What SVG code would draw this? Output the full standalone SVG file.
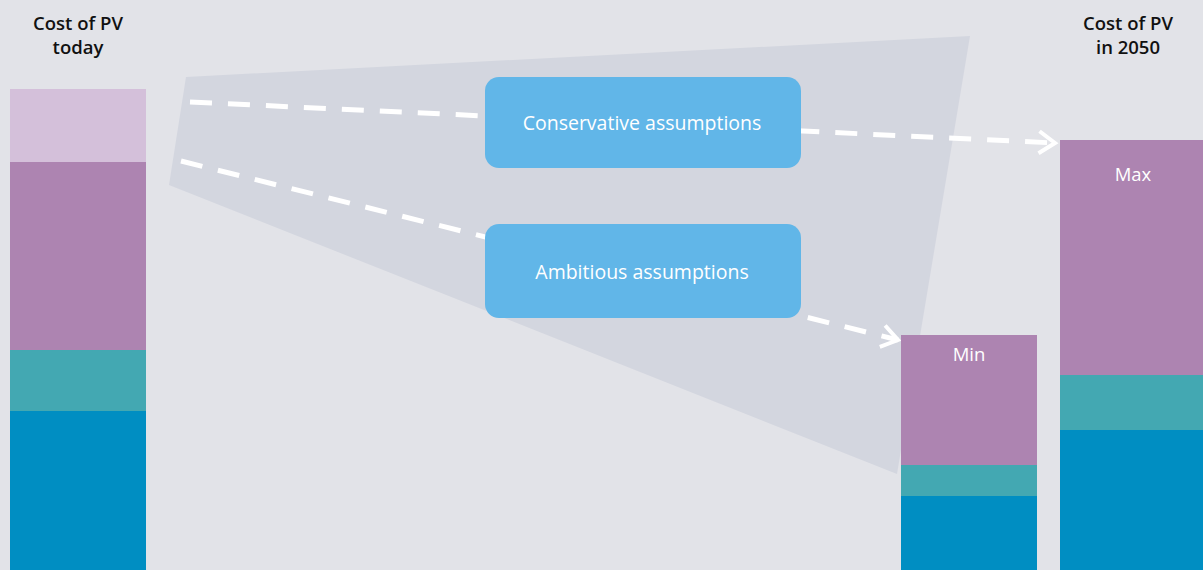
<svg xmlns="http://www.w3.org/2000/svg" width="1203" height="570" viewBox="0 0 1203 570">
<style>
.title{font-family:"Open Sans","Liberation Sans",sans-serif;font-size:18.5px;font-weight:600;fill:#111;text-anchor:middle}
.lbl{font-family:"Open Sans","Liberation Sans",sans-serif;font-size:19.5px;fill:#fff;text-anchor:middle}
.sm{font-size:18.5px}
.box{fill:#61b6e8}
.dash{stroke:#fff;stroke-width:5;fill:none;stroke-dasharray:22 16}
.p1{fill:#d4c0da}.p2{fill:#ad84b1}.p3{fill:#43a8b2}.p4{fill:#008ec2}
</style>
<defs>
<marker id="arr" markerWidth="12" markerHeight="14" refX="10" refY="7" orient="auto" markerUnits="userSpaceOnUse" viewBox="0 0 12 14" overflow="visible">
<path d="M-6,-4 L10,7 L-6,18" fill="none" stroke="#fff" stroke-width="4"/>
</marker>
</defs>
<rect width="1203" height="570" fill="#e2e3e8"/>
<polygon points="186,77 970,36 897,474 169,185" fill="#d3d6df"/>
<g id="connectors">
<path class="dash" d="M190,102 L1055,143" marker-end="url(#arr)"/>
<path class="dash" d="M181,161 L898,340" marker-end="url(#arr)"/>
</g>
<g id="today">
<rect class="p1" x="10" y="89" width="136" height="73"/>
<rect class="p2" x="10" y="162" width="136" height="188"/>
<rect class="p3" x="10" y="350" width="136" height="61"/>
<rect class="p4" x="10" y="411" width="136" height="159"/>
<text class="title" x="78" y="30">Cost of PV</text>
<text class="title" x="78" y="54">today</text>
</g>
<g id="conservative">
<rect class="box" x="485" y="77" width="316" height="91" rx="14"/>
<text class="lbl" x="642" y="130">Conservative assumptions</text>
</g>
<g id="ambitious">
<rect class="box" x="485" y="224" width="316" height="94" rx="14"/>
<text class="lbl" x="642" y="279">Ambitious assumptions</text>
</g>
<g id="min">
<rect class="p2" x="901" y="335" width="136" height="130"/>
<rect class="p3" x="901" y="465" width="136" height="31"/>
<rect class="p4" x="901" y="496" width="136" height="74"/>
<text class="lbl sm" x="969" y="361">Min</text>
</g>
<g id="max">
<rect class="p2" x="1060" y="140" width="143" height="235"/>
<rect class="p3" x="1060" y="375" width="143" height="55"/>
<rect class="p4" x="1060" y="430" width="143" height="140"/>
<text class="lbl sm" x="1133" y="181">Max</text>
<text class="title" x="1128" y="30">Cost of PV</text>
<text class="title" x="1128" y="54">in 2050</text>
</g>
</svg>
